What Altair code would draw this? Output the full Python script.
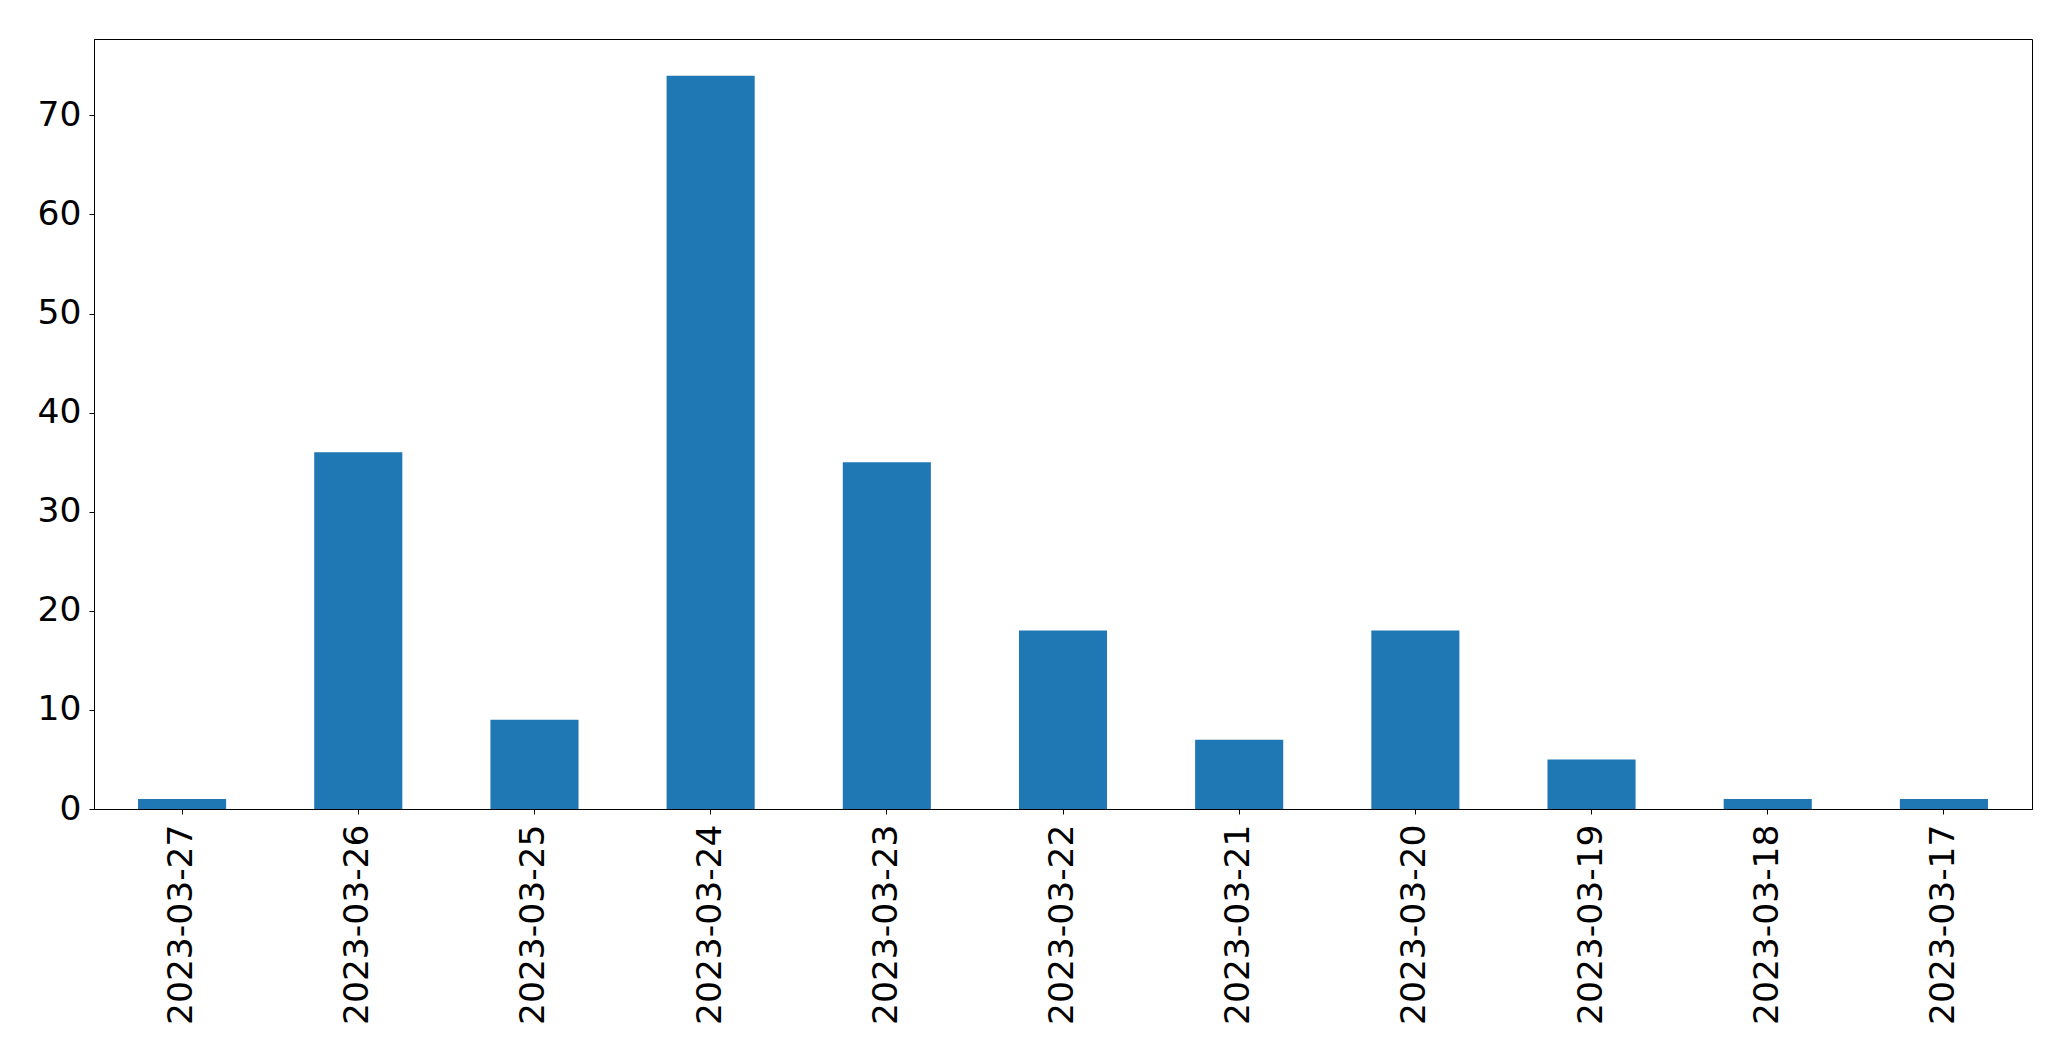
import altair as alt
import pandas as pd

dates = ["2023-03-27", "2023-03-26", "2023-03-25", "2023-03-24", "2023-03-23",
         "2023-03-22", "2023-03-21", "2023-03-20", "2023-03-19", "2023-03-18", "2023-03-17"]
counts = [1, 36, 9, 74, 35, 18, 7, 18, 5, 1, 1]

df = pd.DataFrame({"date": dates, "count": counts})

FONT = "DejaVu Sans"

chart = alt.Chart(df).mark_bar(color="#1f77b4").encode(
    x=alt.X("date:N", sort=None, title=None,
            scale=alt.Scale(paddingInner=0.5, paddingOuter=0.25),
            axis=alt.Axis(labelAngle=-90, labelFontSize=34.5, labelFont=FONT,
                          labelColor="black", tickColor="black", tickSize=5,
                          domainColor="black", labelPadding=10, labelLimit=0,
                          grid=False)),
    y=alt.Y("count:Q", title=None,
            scale=alt.Scale(domain=[0, 77.7], nice=False, zero=True),
            axis=alt.Axis(values=[0, 10, 20, 30, 40, 50, 60, 70],
                          labelFontSize=34.5, labelFont=FONT, labelColor="black",
                          tickColor="black", tickSize=5, domainColor="black",
                          labelPadding=8, grid=False)),
).properties(
    width=1938, height=770,
    autosize=alt.AutoSizeParams(type="none"),
    padding={"left": 86, "top": 31, "right": 20, "bottom": 240},
).configure_view(
    stroke="black", strokeWidth=1
).configure_axis(
    domainWidth=1, tickWidth=1
)

chart.save("out.html", embed_options={"renderer": "svg", "actions": False})
